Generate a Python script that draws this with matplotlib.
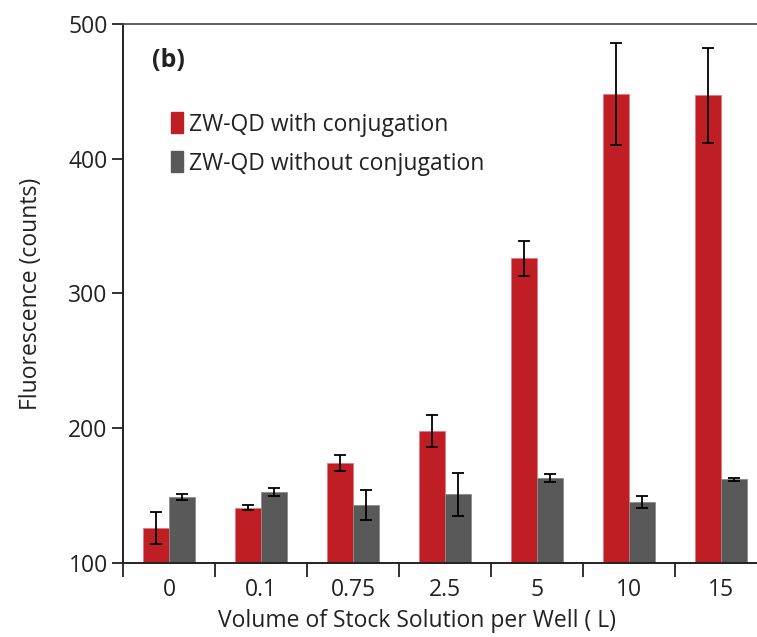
import numpy as np
import matplotlib
matplotlib.use("Agg")
import matplotlib.pyplot as plt
from matplotlib.patches import Patch

plt.rcParams['font.family'] = ['Open Sans', 'DejaVu Sans']

# data
volumes = ['0', '0.1', '0.75', '2.5', '5', '10', '15']
with_conj = [126, 141, 174, 198, 326, 448, 447]
with_conj_err = [12, 2, 6, 12, 13, 38, 35]
without_conj = [149, 153, 143, 151, 163, 145, 162]
without_conj_err = [2, 3, 11, 16, 3, 4.5, 1]

red = '#BE1E24'
gray = '#595959'
text_col = '#222222'
fs = 16.5

fig = plt.figure(figsize=(7.57, 6.37), dpi=100)
ax = fig.add_axes([0.1625, 0.1162, 0.8507, 0.8461])

x = np.arange(len(volumes))
w = 0.283
err_kw = dict(ecolor='black', elinewidth=1.3, capsize=4.5, capthick=1.3)
ax.bar(x - w / 2, with_conj, w, yerr=with_conj_err, color=red,
       edgecolor='#e07a7e', linewidth=0.6, error_kw=err_kw)
ax.bar(x + w / 2, without_conj, w, yerr=without_conj_err, color=gray,
       edgecolor='#8a8a8a', linewidth=0.6, error_kw=err_kw)

ax.set_ylim(100, 500)
ax.set_xlim(-0.5, len(volumes) - 0.5)
ax.set_yticks([100, 200, 300, 400, 500])

# major ticks sit between groups, labels on minor ticks at group centres
ax.set_xticks(np.arange(-0.5, len(volumes), 1.0))
ax.set_xticklabels([])
ax.set_xticks(x, minor=True)
ax.set_xticklabels(volumes, minor=True)
ax.tick_params(axis='x', which='major', direction='out', length=10, width=1.3, color='#222222')
ax.tick_params(axis='x', which='minor', length=0, pad=11, labelsize=fs, labelcolor=text_col)
ax.tick_params(axis='y', direction='out', length=8, width=1.3, color='#222222',
               pad=3, labelsize=fs, labelcolor=text_col)

for side in ['left', 'bottom']:
    ax.spines[side].set_linewidth(1.4)
    ax.spines[side].set_color('#222222')
ax.spines['top'].set_linewidth(1.2)
ax.spines['top'].set_color('#444444')
ax.spines['right'].set_visible(False)

ax.set_ylabel('Fluorescence (counts)', fontsize=fs, color=text_col, labelpad=18)
fig.text(417 / 757, 1 - 621 / 637, 'Volume of Stock Solution per Well ( L)',
         ha='center', va='center', fontsize=fs, color=text_col)

ax.text(0.045, 0.933, '(b)', transform=ax.transAxes, fontsize=18, fontweight='bold',
        color=text_col, va='center')

handles = [Patch(facecolor=red, edgecolor=red), Patch(facecolor=gray, edgecolor=gray)]
ax.legend(handles, ['ZW-QD with conjugation', 'ZW-QD without conjugation'],
          loc='upper left', bbox_to_anchor=(0.06, 0.853), frameon=False,
          fontsize=fs, handlelength=0.55, handleheight=1.0, handletextpad=0.25,
          labelspacing=0.65, labelcolor=text_col, borderaxespad=0)

fig.savefig('out.png', dpi=100)
